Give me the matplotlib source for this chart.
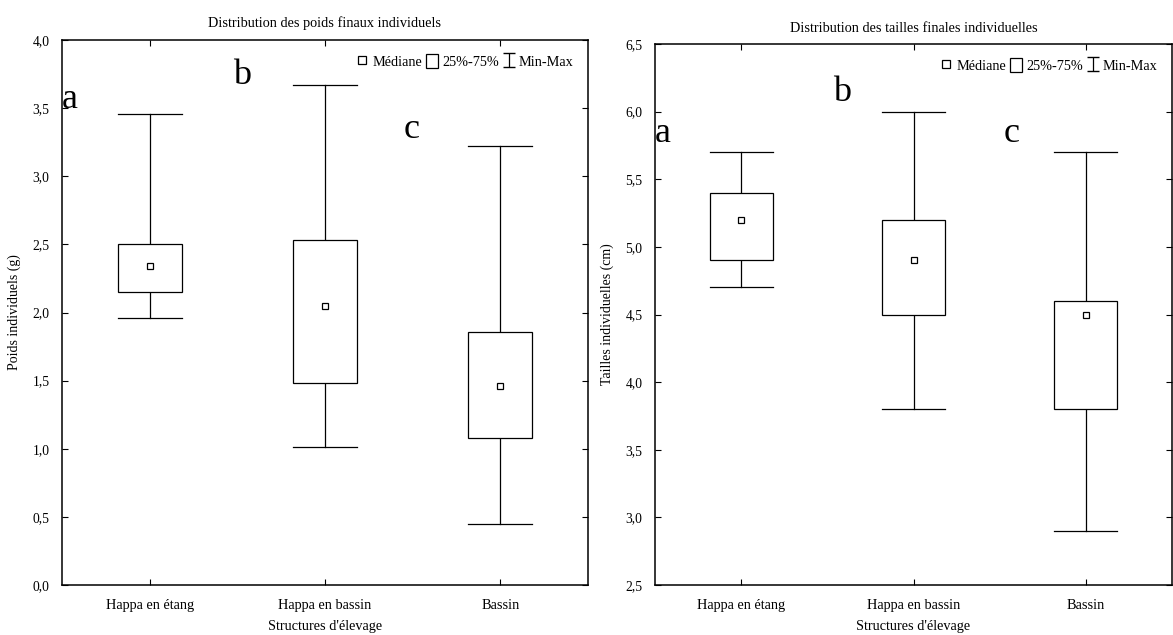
import matplotlib.pyplot as plt
import numpy as np
from matplotlib.lines import Line2D
from matplotlib.patches import Patch, Rectangle

plt.rcParams['font.family'] = ['Liberation Serif', 'DejaVu Serif']

categories = ['Happa en étang', 'Happa en bassin', 'Bassin']
letters = ['a', 'b', 'c']

# poids (g)
poids_min = [1.96, 1.01, 0.45]
poids_q1 = [2.15, 1.48, 1.08]
poids_med = [2.34, 2.05, 1.46]
poids_q3 = [2.50, 2.53, 1.86]
poids_max = [3.46, 3.67, 3.22]

# tailles (cm)
taille_min = [4.7, 3.8, 2.9]
taille_q1 = [4.9, 4.5, 3.8]
taille_med = [5.2, 4.9, 4.5]
taille_q3 = [5.4, 5.2, 4.6]
taille_max = [5.7, 6.0, 5.7]

fs = 10.3


def draw_panel(ax, vmin, q1, med, q3, vmax, ylim, yticks, ylabel, title, letter_pos):
     w = 0.365
     pos = np.arange(1, len(categories) + 1)
     for i, p in enumerate(pos):
          ax.add_patch(Rectangle((p - w/2, q1[i]), w, q3[i] - q1[i], fc='white', ec='black', lw=0.9, zorder=2))
          ax.plot([p, p], [q3[i], vmax[i]], color='black', lw=0.9, zorder=1)
          ax.plot([p, p], [vmin[i], q1[i]], color='black', lw=0.9, zorder=1)
          ax.plot([p - w/2, p + w/2], [vmax[i], vmax[i]], color='black', lw=0.9)
          ax.plot([p - w/2, p + w/2], [vmin[i], vmin[i]], color='black', lw=0.9)
          ax.plot(p, med[i], marker='s', ms=5, mfc='white', mec='black', mew=0.9, zorder=3)
     ax.set_xlim(0.5, 3.5)
     ax.set_ylim(*ylim)
     ax.set_xticks(pos)
     ax.set_xticklabels(categories, fontsize=fs)
     ax.set_yticks(yticks)
     ax.set_yticklabels([('%.1f' % t).replace('.', ',') for t in yticks], fontsize=9.8)
     ax.tick_params(direction='in', top=True, right=True, length=4)
     ax.tick_params(axis='x', pad=10)
     ax.tick_params(axis='y', pad=9)
     ax.set_xlabel("Structures d'élevage", fontsize=fs, labelpad=6)
     ax.set_ylabel(ylabel, fontsize=10, labelpad=8)
     ax.set_title(title, fontsize=fs, pad=9)
     for s in ax.spines.values():
          s.set_linewidth(1.1)
     for l, (x, y) in zip(letters, letter_pos):
          ax.text(x, y, l, fontsize=26, transform=ax.transAxes, ha='left', va='center')
     handles = [Line2D([], [], marker='s', ls='none', ms=5.5, mfc='white', mec='black', mew=0.9),
                Patch(fc='white', ec='black', lw=0.9),
                ax.errorbar([np.nan], [np.nan], yerr=[[1], [1]], fmt='none', ecolor='black', elinewidth=0.9, capsize=4)]
     ax.legend(handles, ['Médiane', '25%-75%', 'Min-Max'], loc='upper right', ncol=3, frameon=False,
               fontsize=fs, handlelength=0.8, handleheight=1.1, handletextpad=0.3, columnspacing=0.3,
               borderaxespad=0.6)


fig = plt.figure(figsize=(11.73, 6.35), dpi=100)
ax1 = fig.add_axes([62/1173, 50/635, 526/1173, 545/635])
ax2 = fig.add_axes([655/1173, 50/635, 517/1173, 541/635])

draw_panel(ax1, poids_min, poids_q1, poids_med, poids_q3, poids_max, (0, 4.0),
           np.arange(0, 4.01, 0.5), 'Poids individuels (g)', 'Distribution des poids finaux individuels',
           [(0.0, 0.89), (0.325, 0.935), (0.65, 0.835)])
draw_panel(ax2, taille_min, taille_q1, taille_med, taille_q3, taille_max, (2.5, 6.5),
           np.arange(2.5, 6.51, 0.5), 'Tailles individuelles (cm)', 'Distribution des tailles finales individuelles',
           [(0.0, 0.835), (0.345, 0.91), (0.675, 0.835)])

fig.savefig('out.png', dpi=100)
